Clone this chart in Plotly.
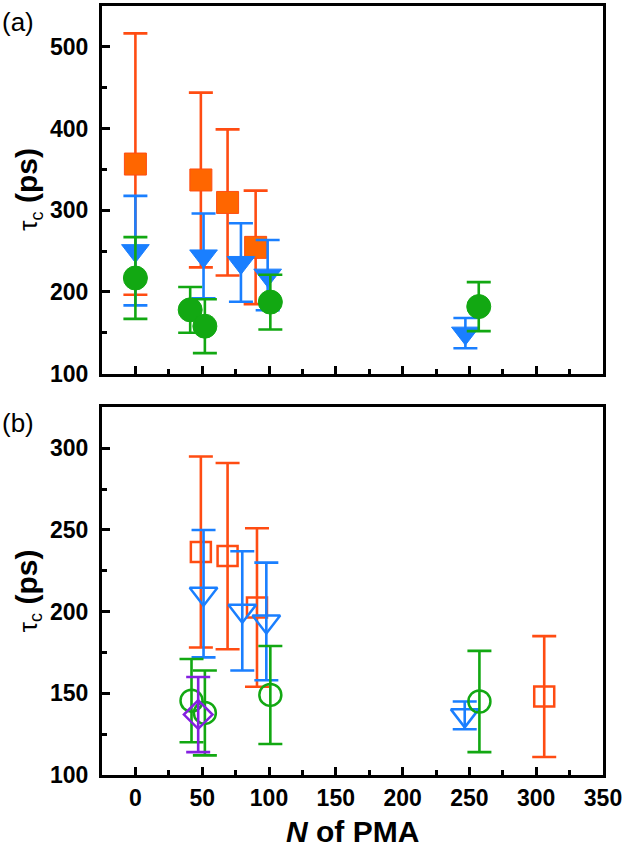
import plotly.graph_objects as go

# ---- data ----------------------------------------------------------------
# panel (a): filled symbols
a_sq_x = [0, 49, 69, 90]
a_sq_y = [356.5, 337, 309.5, 254.5]
a_sq_e = [160, 107, 89.5, 69.5]

a_tri_x = [0, 51, 79, 99, 247]
a_tri_y = [250.5, 244, 236, 220.5, 149.5]
a_tri_e = [67, 52, 48, 43, 18.5]

a_cir_x = [0, 41, 52, 101, 257]
a_cir_y = [217, 178, 158, 187.5, 182]
a_cir_e = [50, 28, 33, 33.5, 30]

# panel (b): open symbols
b_sq_x = [49, 69, 91, 306]
b_sq_y = [236.5, 234, 202.5, 148]
b_sq_e = [58.5, 57, 48.5, 37]

b_tri_x = [51, 80, 98, 246.5]
b_tri_y = [211, 200.5, 194, 136.5]
b_tri_e = [39, 36.5, 36, 8.5]

b_cir_x = [42, 52, 101, 257.5]
b_cir_y = [145.5, 138, 149, 145]
b_cir_e = [25.5, 26, 30, 31]

b_dia_x = [47]
b_dia_y = [137]
b_dia_e = [23]

ORANGE = "#FF4C12"
ORANGE_FILL = "#FF6600"
BLUE = "#1A7FFF"
GREEN = "#12A812"
PURPLE = "#8420E0"

FONT = "Liberation Sans, Arial, sans-serif"

W, H = 625, 851
M_L, M_R, M_T, M_B = 102, 22, 3, 76
plot_h = H - M_T - M_B


def ydom(top_px, bottom_px):
    return [(H - M_B - bottom_px) / plot_h, (H - M_B - top_px) / plot_h]


def series(x, y, e, color, symbol, size, xa, ya, fill=None, lw=2.5):
    if fill is None:
        marker = dict(symbol=symbol, size=size, color=color,
                      line=dict(color=color, width=lw))
    else:
        marker = dict(symbol=symbol, size=size, color=fill,
                      line=dict(color=color, width=1))
    return go.Scatter(
        x=x, y=y, mode="markers", marker=marker,
        error_y=dict(type="data", array=e, symmetric=True, color=color,
                     thickness=2.6, width=12),
        xaxis=xa, yaxis=ya, showlegend=False,
    )


fig = go.Figure()

# panel (a)
fig.add_trace(series(a_sq_x, a_sq_y, a_sq_e, ORANGE, "square", 22, "x", "y", fill=ORANGE_FILL))
fig.add_trace(series(a_tri_x, a_tri_y, a_tri_e, BLUE, "triangle-down", 24, "x", "y", fill=BLUE))
fig.add_trace(series(a_cir_x, a_cir_y, a_cir_e, GREEN, "circle", 24, "x", "y", fill=GREEN))

# panel (b)
fig.add_trace(series(b_sq_x, b_sq_y, b_sq_e, ORANGE, "square-open", 20, "x2", "y2"))
fig.add_trace(series(b_tri_x, b_tri_y, b_tri_e, BLUE, "triangle-down-open", 24, "x2", "y2"))
fig.add_trace(series(b_cir_x, b_cir_y, b_cir_e, GREEN, "circle-open", 22, "x2", "y2"))
fig.add_trace(series(b_dia_x, b_dia_y, b_dia_e, PURPLE, "diamond-open", 22, "x2", "y2"))

tickfont = dict(family=FONT, size=23, color="black", weight="bold")
common = dict(
    showline=True, linecolor="black", linewidth=3, mirror=True,
    ticks="inside", ticklen=8, tickwidth=2.5, tickcolor="black",
    showgrid=False, zeroline=False, tickfont=tickfont,
)
x_common = dict(common, range=[-25, 350], tick0=0, dtick=50,
                minor=dict(ticks="inside", ticklen=5, tickwidth=2.5,
                           tickcolor="black", dtick=25, tick0=0))

fig.update_layout(
    width=W, height=H,
    margin=dict(l=M_L, r=M_R, t=M_T, b=M_B),
    plot_bgcolor="white", paper_bgcolor="white",
    xaxis=dict(x_common, domain=[0, 1], anchor="y", showticklabels=False),
    yaxis=dict(common, domain=ydom(3, 372), anchor="x", range=[100, 550],
               tick0=100, dtick=100, ticklabelstandoff=6,
               minor=dict(ticks="inside", ticklen=5, tickwidth=2.5,
                          tickcolor="black", dtick=50, tick0=100)),
    xaxis2=dict(x_common, domain=[0, 1], anchor="y2", ticklabelstandoff=0),
    yaxis2=dict(common, domain=ydom(406, 775), anchor="x2", range=[100, 325],
                tick0=100, dtick=50, ticklabelstandoff=6,
                minor=dict(ticks="inside", ticklen=5, tickwidth=2.5,
                           tickcolor="black", dtick=25, tick0=100)),
)

ytitle = "<span style='font-size:26px'>τ<sub>c</sub></span> <b>(ps)</b>"
for top, bottom, label in [(3, 372, "(a)"), (406, 775, "(b)")]:
    mid = (top + bottom) / 2
    fig.add_annotation(
        text=ytitle, textangle=-90, showarrow=False,
        xref="paper", yref="paper",
        x=-(M_L - 28) / (W - M_L - M_R), y=(H - M_B - mid) / plot_h,
        xanchor="center", yanchor="middle",
        font=dict(family=FONT, size=30, color="black"),
    )
    fig.add_annotation(
        text=label, showarrow=False, xref="paper", yref="paper",
        x=-(M_L - 0) / (W - M_L - M_R), y=(H - M_B - (top + 16)) / plot_h,
        xanchor="left", yanchor="middle",
        font=dict(family=FONT, size=26, color="black"),
    )

fig.add_annotation(
    text="<b><i>N</i> of PMA</b>", showarrow=False,
    xref="paper", yref="paper", x=0.5, y=-(832 - (H - M_B)) / plot_h,
    xanchor="center", yanchor="middle",
    font=dict(family=FONT, size=30, color="black"),
)

# drop the page's default body margin so the figure sits at the top-left corner
fig.write_html(
    "out.html",
    config={"displayModeBar": False},
    post_script="document.body.style.margin='0px';",
)
